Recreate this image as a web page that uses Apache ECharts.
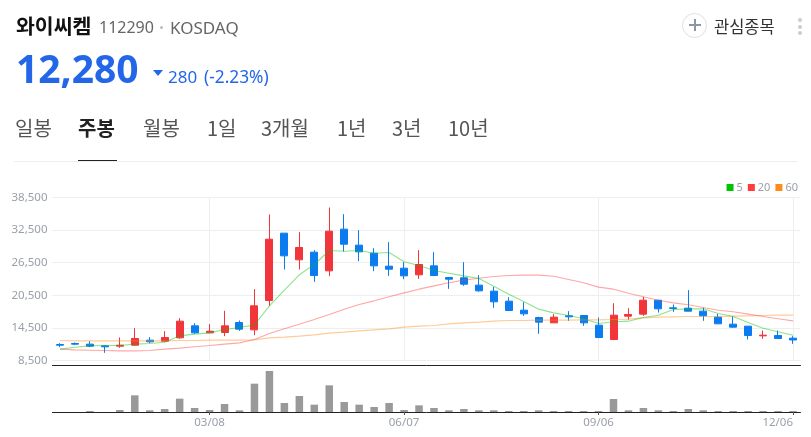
<!DOCTYPE html>
<html>
<head>
<meta charset="utf-8">
<script src="https://cdn.jsdelivr.net/npm/echarts@6/dist/echarts.min.js"></script>
<style>
html, body { margin: 0; padding: 0; background: #fff; overflow: hidden; }
body { font-family: "Noto Sans CJK KR", "Noto Sans", sans-serif; }
#page { position: relative; width: 811px; height: 437px; }
#chart { position: absolute; left: 0; top: 0; width: 811px; height: 437px; }
.t { position: absolute; white-space: nowrap; line-height: 1; }
.tab { top: 118px; font-size: 20px; color: #555; }
</style>
</head>
<body>
<div id="page">
  <div id="chart"></div>
  <div class="t" style="left:16px;top:15px;font-size:20.5px;font-weight:700;color:#111">와이씨켐</div>
  <div class="t" style="left:99px;top:19px;font-size:16px;color:#666;font-family:'Noto Sans'">112290</div>
  <div style="position:absolute;left:160px;top:26px;width:3px;height:3px;border-radius:2px;background:#bbb"></div>
  <div class="t" style="left:170px;top:19px;font-size:17px;color:#666;font-family:'Noto Sans'">KOSDAQ</div>
  <div class="t" style="left:16px;top:48px;font-size:39px;font-weight:700;color:#2367e8;font-family:'Noto Sans'">12,280</div>
  <div style="position:absolute;left:153px;top:70px;width:0;height:0;border-left:5px solid transparent;border-right:5px solid transparent;border-top:6px solid #2367e8"></div>
  <div class="t" style="left:168px;top:68px;font-size:17px;color:#2367e8;font-family:'Noto Sans'">280</div>
  <div class="t" style="left:204px;top:68px;font-size:17.3px;color:#2367e8;font-family:'Noto Sans'">(-2.23%)</div>
  <div class="t tab" style="left:15px">일봉</div>
  <div class="t tab" style="left:78px;font-weight:700;color:#222">주봉</div>
  <div class="t tab" style="left:143px">월봉</div>
  <div class="t tab" style="left:207px">1일</div>
  <div class="t tab" style="left:261px">3개월</div>
  <div class="t tab" style="left:337px">1년</div>
  <div class="t tab" style="left:392px">3년</div>
  <div class="t tab" style="left:448px">10년</div>
  <div style="position:absolute;left:14px;top:161px;width:783px;height:1px;background:#eee"></div>
  <div style="position:absolute;left:78px;top:160px;width:39px;height:1px;background:#222"></div>
  <div style="position:absolute;left:682px;top:13px;width:23px;height:23px;border:1.5px solid #dcdfe6;border-radius:50%"></div>
  <div style="position:absolute;left:689px;top:24px;width:12px;height:2px;background:#8e96a3"></div>
  <div style="position:absolute;left:694px;top:19px;width:2px;height:12px;background:#8e96a3"></div>
  <div class="t" style="left:714px;top:18px;font-size:16.5px;color:#333">관심종목</div>
  <div style="position:absolute;left:798px;top:18px;width:4px;height:4px;border-radius:2px;background:#ccc"></div>
  <div style="position:absolute;left:798px;top:25px;width:4px;height:4px;border-radius:2px;background:#ccc"></div>
  <div style="position:absolute;left:798px;top:31px;width:4px;height:4px;border-radius:2px;background:#ccc"></div>
</div>
<script>
var dates = [
  '12/28','01/04','01/11','01/18','01/25','02/01','02/08','02/15','02/22','03/01',
  '03/08','03/15','03/22','03/29','04/05','04/12','04/19','04/26','05/03','05/10',
  '05/17','05/24','05/31','06/07','06/14','06/21','06/28','07/05','07/12','07/19',
  '07/26','08/02','08/09','08/16','08/23','08/30','09/06','09/13','09/20','09/27',
  '10/04','10/11','10/18','10/25','11/01','11/08','11/15','11/22','11/29','12/06'
];
// open, close, low, high
var candles = [
  [11450,11320,10950,11690],[11630,11510,11320,11810],[11510,11140,10950,12060],[11200,11020,9910,11320],[11140,11320,10830,12730],
  [11320,12550,11200,14450],[12240,11940,11690,12800],[12060,12730,11940,13900],[12670,15740,12490,16290],[14880,13590,13410,15370],
  [13590,13900,13590,15190],[13650,14880,12980,17640],[15490,14270,13960,15860],[14140,18560,13160,21630],[19540,30830,18560,35370],
  [31940,27760,25250,31940],[27030,29300,25250,32120],[28440,24140,22980,28810],[25000,32300,24020,36660],[32670,29910,28560,35430],
  [29730,28500,26780,32490],[28250,25920,24940,29170],[25860,25310,24080,30280],[25490,24080,23470,26600],[24270,26170,23530,28810],
  [25920,24140,24020,28440],[23780,23470,21690,23780],[23720,22550,22240,26600],[22370,21320,21140,24210],[21260,19300,18190,22060],
  [19420,17700,17640,20160],[17760,17090,16720,19240],[16410,15560,13410,16540],[15430,16480,15430,17030],[16720,16540,15800,17580],
  [16780,15430,14880,16780],[15000,12730,12610,16410],[12370,16840,12240,19050],[16660,16970,15990,18130],[17030,19600,16720,20220],
  [19600,18010,17330,19600],[18190,18070,17460,18810],[18130,17580,17580,21450],[17580,16720,15800,18190],[16480,15250,15250,17090],
  [15190,14640,14510,16600],[14820,13100,12370,14820],[13040,13160,12490,14020],[13100,12560,12560,14020],[12610,12280,11570,12980]
];
var ma5 = [
  10590,10950,11200,11260,11260,11510,11630,11870,13040,13350,
  13590,14210,14570,15060,18560,21450,24270,26170,28750,28620,
  28750,28250,28380,26660,25980,25060,24570,24080,23590,22180,
  20710,19360,17950,17270,16780,16170,15310,15620,15740,16410,
  16840,17890,18010,18010,17150,16600,15490,14450,13780,13160
];
var ma20 = [
  10590,10460,10400,10340,10280,10280,10340,10590,10770,11020,
  11260,11510,11750,12370,13470,14330,15190,16050,16970,17950,
  18810,19480,20220,20950,21630,22240,22800,23290,23650,23960,
  24140,24210,24210,24020,23410,22800,22000,21630,20890,20220,
  19600,19110,18750,18250,17760,17460,17030,16600,16170,15800
];
var ma60 = [
  12180,12120,12120,12120,12120,12120,12120,12120,12180,12180,
  12240,12240,12240,12300,12670,12790,12980,13220,13530,13720,
  13960,14140,14330,14640,14820,14940,15250,15430,15560,15740,
  15860,15860,15920,15920,15920,15990,15990,16050,16110,16350,
  16480,16540,16600,16600,16600,16660,16720,16780,16840,16840
];
// thousand shares
var volumes = [
  0,0,150,0,300,2500,250,450,2000,600,
  300,1200,250,4250,6150,1350,2400,1100,4000,1500,
  1100,750,1350,300,1000,600,250,450,250,250,
  150,150,250,150,150,150,150,1950,250,600,
  250,150,450,250,150,150,150,150,150,150
];
var labelDates = ['03/08','06/07','09/06','12/06'];

var showDate = function (idx, val) { return labelDates.indexOf(val) >= 0; };
var labelFont = '"Noto Sans", sans-serif';

var chart = echarts.init(document.getElementById('chart'));
chart.setOption({
  animation: false,
  legend: {
    right: 13, top: 182, padding: 0,
    itemWidth: 7, itemHeight: 7, itemGap: 5,
    icon: 'rect',
    data: ['5', '20', '60'],
    textStyle: { color: '#9aa0aa', fontSize: 11, fontFamily: labelFont, padding: [0, 0, 0, -2] }
  },
  grid: [
    { left: 52.5, right: 10.5, top: 197.5, height: 163 },
    { left: 52.5, right: 10.5, top: 365, height: 47 }
  ],
  xAxis: [
    {
      type: 'category', gridIndex: 0, data: dates,
      axisLine: { show: false }, axisTick: { show: false }, axisLabel: { show: false },
      splitLine: { show: true, alignWithLabel: true, interval: showDate, lineStyle: { color: '#eeeeee' } }
    },
    {
      type: 'category', gridIndex: 1, data: dates,
      axisLine: { lineStyle: { color: '#222', width: 1 } },
      axisTick: { show: true, alignWithLabel: true, interval: showDate, length: 3, lineStyle: { color: '#555' } },
      axisLabel: { interval: showDate, alignMaxLabel: 'right', color: '#9aa0aa', fontSize: 11.5, fontFamily: labelFont, margin: 5 }
    },
    {
      type: 'category', gridIndex: 1, position: 'top', data: dates,
      axisLine: { lineStyle: { color: '#222', width: 1 } },
      axisTick: { show: false }, axisLabel: { show: false }
    }
  ],
  yAxis: [
    {
      type: 'value', gridIndex: 0, min: 8500, max: 38500, interval: 6000,
      axisLine: { show: false }, axisTick: { show: false },
      axisLabel: {
        color: '#9aa0aa', fontSize: 11.5, fontFamily: labelFont, margin: 5,
        formatter: function (v) { return v.toLocaleString('en-US'); }
      },
      splitLine: { lineStyle: { color: '#eeeeee' } }
    },
    {
      type: 'value', gridIndex: 1, min: 0, max: 7050,
      axisLine: { show: false }, axisTick: { show: false }, axisLabel: { show: false },
      splitLine: { show: false }
    }
  ],
  series: [
    {
      name: '60', type: 'line', data: ma60, xAxisIndex: 0, yAxisIndex: 0, showSymbol: false,
      itemStyle: { color: '#ff8c1a' }, lineStyle: { color: '#ff8c1a', width: 1.2, opacity: 0.45 }
    },
    {
      name: '20', type: 'line', data: ma20, xAxisIndex: 0, yAxisIndex: 0, showSymbol: false,
      itemStyle: { color: '#ff3b3b' }, lineStyle: { color: '#ff3b3b', width: 1.1, opacity: 0.45 }
    },
    {
      name: '5', type: 'line', data: ma5, xAxisIndex: 0, yAxisIndex: 0, showSymbol: false,
      itemStyle: { color: '#00c400' }, lineStyle: { color: '#00c400', width: 1.1, opacity: 0.45 }
    },
    {
      type: 'candlestick', data: candles, xAxisIndex: 0, yAxisIndex: 0, barWidth: 7.5,
      itemStyle: { color: '#f2353a', color0: '#0a7cf0', borderColor: '#f2353a', borderColor0: '#0a7cf0', borderWidth: 1 }
    },
    {
      type: 'bar', data: volumes, xAxisIndex: 1, yAxisIndex: 1, barWidth: 7.5,
      itemStyle: { color: '#999999' }
    }
  ]
});
</script>
</body>
</html>
